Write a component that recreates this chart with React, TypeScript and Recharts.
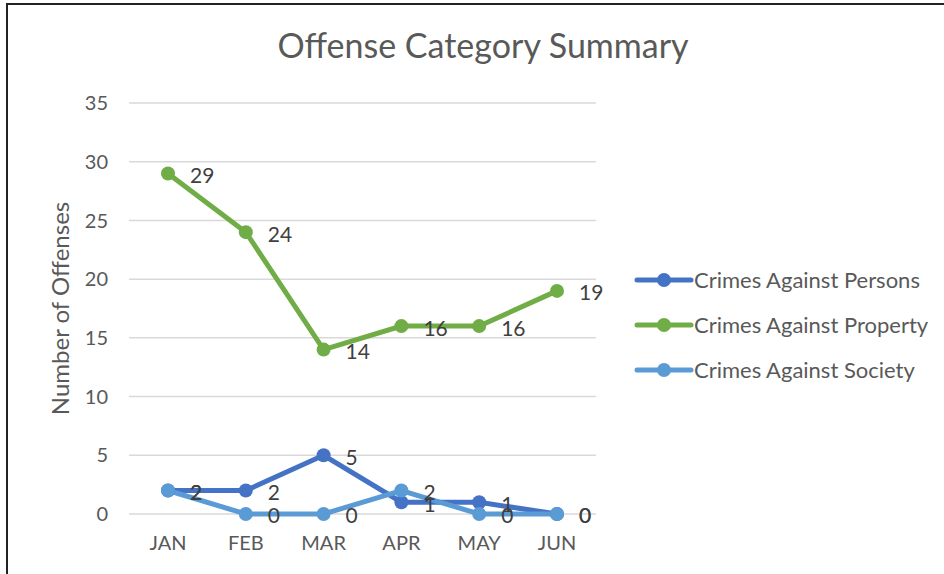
import { LineChart, Line, XAxis, YAxis, CartesianGrid, LabelList } from 'recharts';

const months = ['JAN', 'FEB', 'MAR', 'APR', 'MAY', 'JUN'];
const personsValues = [2, 2, 5, 1, 1, 0];
const propertyValues = [29, 24, 14, 16, 16, 19];
const societyValues = [2, 0, 0, 2, 0, 0];
const yTicks = [0, 5, 10, 15, 20, 25, 30, 35];

const series = [
  { key: 'persons', name: 'Crimes Against Persons', color: '#4472C4' },
  { key: 'property', name: 'Crimes Against Property', color: '#70AD47' },
  { key: 'society', name: 'Crimes Against Society', color: '#5B9BD5' },
];

const data = months.map((m, i) => ({
  month: m,
  persons: personsValues[i],
  property: propertyValues[i],
  society: societyValues[i],
}));

const FONT = 'Lato, "Open Sans", sans-serif';

// legend drawn as plain html next to the plot
const ChartLegend = () => (
  <div style={{ position: 'absolute', left: 634, top: 257, fontFamily: FONT }}>
    {series.map((s) => (
      <div
        key={s.key}
        style={{ display: 'flex', alignItems: 'center', height: 45, fontSize: 22, color: '#595959' }}
      >
        <svg width={60} height={16}>
          <line x1={3} y1={8} x2={57} y2={8} stroke={s.color} strokeWidth={5} strokeLinecap="round" />
          <circle cx={30} cy={8} r={7} fill={s.color} />
        </svg>
        <span>{s.name}</span>
      </div>
    ))}
  </div>
);

export default function App() {
  return (
    <div style={{ position: 'fixed', left: 0, top: 0, width: 944, height: 574, background: '#fff', overflow: 'hidden' }}>
      <div
        style={{
          position: 'absolute',
          left: 6,
          top: 3,
          width: 950,
          height: 600,
          borderTop: '2px solid #222',
          borderLeft: '2px solid #222',
        }}
      />
      <div
        style={{
          position: 'absolute',
          left: 0,
          top: 24,
          width: 966,
          textAlign: 'center',
          fontFamily: FONT,
          fontSize: 34,
          color: '#595959',
        }}
      >
        Offense Category Summary
      </div>
      <div style={{ position: 'absolute', left: 0, top: 0 }}>
        <LineChart width={944} height={574} data={data} margin={{ top: 103, right: 348, bottom: 30, left: 0 }}>
          <CartesianGrid vertical={false} stroke="#d9d9d9" strokeWidth={1.5} />
          <XAxis
            dataKey="month"
            height={30}
            axisLine={false}
            tickLine={false}
            tickSize={0}
            tickMargin={22}
            padding={{ left: 39, right: 39 }}
            tick={{ fill: '#595959', fontSize: 20, fontFamily: FONT }}
          />
          <YAxis
            width={129}
            domain={[0, 35]}
            ticks={yTicks}
            axisLine={false}
            tickLine={false}
            tickSize={0}
            tickMargin={21}
            tick={{ fill: '#595959', fontSize: 20, fontFamily: FONT }}
            label={{
              value: 'Number of Offenses',
              angle: -90,
              position: 'center',
              dx: -4,
              style: { fill: '#595959', fontSize: 24, fontFamily: FONT },
            }}
          />
          {series.map((s) => (
            <Line
              key={s.key}
              dataKey={s.key}
              name={s.name}
              stroke={s.color}
              strokeWidth={5}
              dot={{ r: 7, fill: s.color, stroke: s.color, strokeWidth: 0 }}
              activeDot={false}
              isAnimationActive={false}
            >
              <LabelList
                dataKey={s.key}
                position="right"
                offset={22}
                dy={2}
                style={{ fill: '#404040', fontSize: 21, fontFamily: FONT }}
              />
            </Line>
          ))}
        </LineChart>
      </div>
      <ChartLegend />
    </div>
  );
}
